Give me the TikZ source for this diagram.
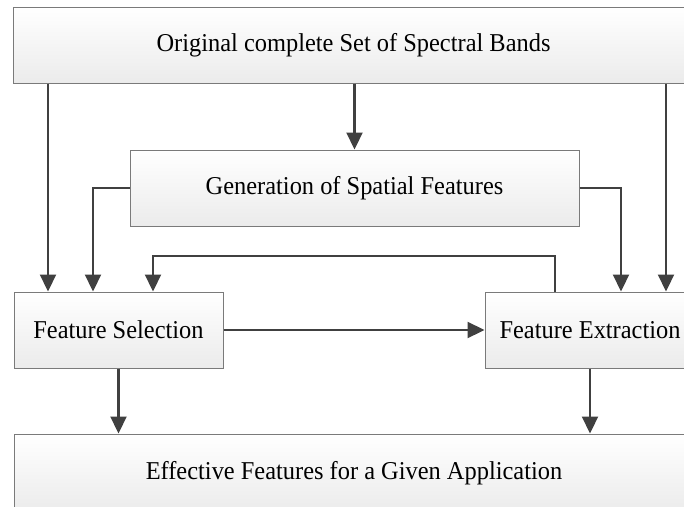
\documentclass[tikz,border=0pt]{standalone}
\usepackage{fontspec}
\setmainfont{Liberation Serif}[FakeStretch=0.95]
\usetikzlibrary{arrows.meta}
\definecolor{linec}{HTML}{404040}
\definecolor{boxline}{HTML}{7A7A7A}
\definecolor{boxbot}{HTML}{EBEBEB}
\tikzset{
  blk/.style={draw=boxline, line width=1pt, top color=white, bottom color=boxbot,
    inner sep=0pt, font=\fontsize{25.7pt}{29pt}\selectfont, text=black},
  arr/.style={draw=linec, line width=2.2pt, -{Triangle[length=17pt,width=16pt]}},
  ln/.style={draw=linec, line width=2.2pt}
}
\begin{document}
\begin{tikzpicture}[x=1pt,y=-1pt]
\useasboundingbox (0,0) rectangle (684,506);
\clip (0,0) rectangle (684,506);
\fill[white] (0,0) rectangle (684,506);
\node[blk, minimum width=681pt, minimum height=76pt] (top) at (353.5,45) {Original complete Set of Spectral Bands};
\node[blk, minimum width=449pt, minimum height=76pt] (gen) at (354.5,188) {Generation of Spatial Features};
\node[blk, minimum width=209pt, minimum height=76pt] (fs) at (118.5,330) {Feature Selection};
\node[blk, minimum width=210pt, minimum height=76pt] (fe) at (590,330) {Feature Extraction};
\node[blk, minimum width=680pt, minimum height=78pt] (bot) at (354,473) {Effective Features for a Given Application};
\coordinate (xa) at (48,0);
\coordinate (xb) at (93,0);
\coordinate (xc) at (153,256);
\coordinate (xd) at (555,256);
\coordinate (xe) at (621,0);
\coordinate (xf) at (666,0);
\draw[arr] (top.south -| gen.north) -- (gen.north);
\draw[arr] (top.south -| xa) -- (fs.north -| xa);
\draw[arr] (top.south -| xf) -- (fe.north -| xf);
\draw[arr] (gen.west) -| (fs.north -| xb);
\draw[arr] (gen.east) -| (fe.north -| xe);
\draw[arr] (fe.north -| xd) -- (xd) -- (xc) -- (fs.north -| xc);
\draw[arr] (fs.east) -- (fe.west);
\draw[arr] (fs.south) -- (bot.north -| fs.south);
\draw[arr] (fe.south) -- (bot.north -| fe.south);
\end{tikzpicture}
\end{document}
